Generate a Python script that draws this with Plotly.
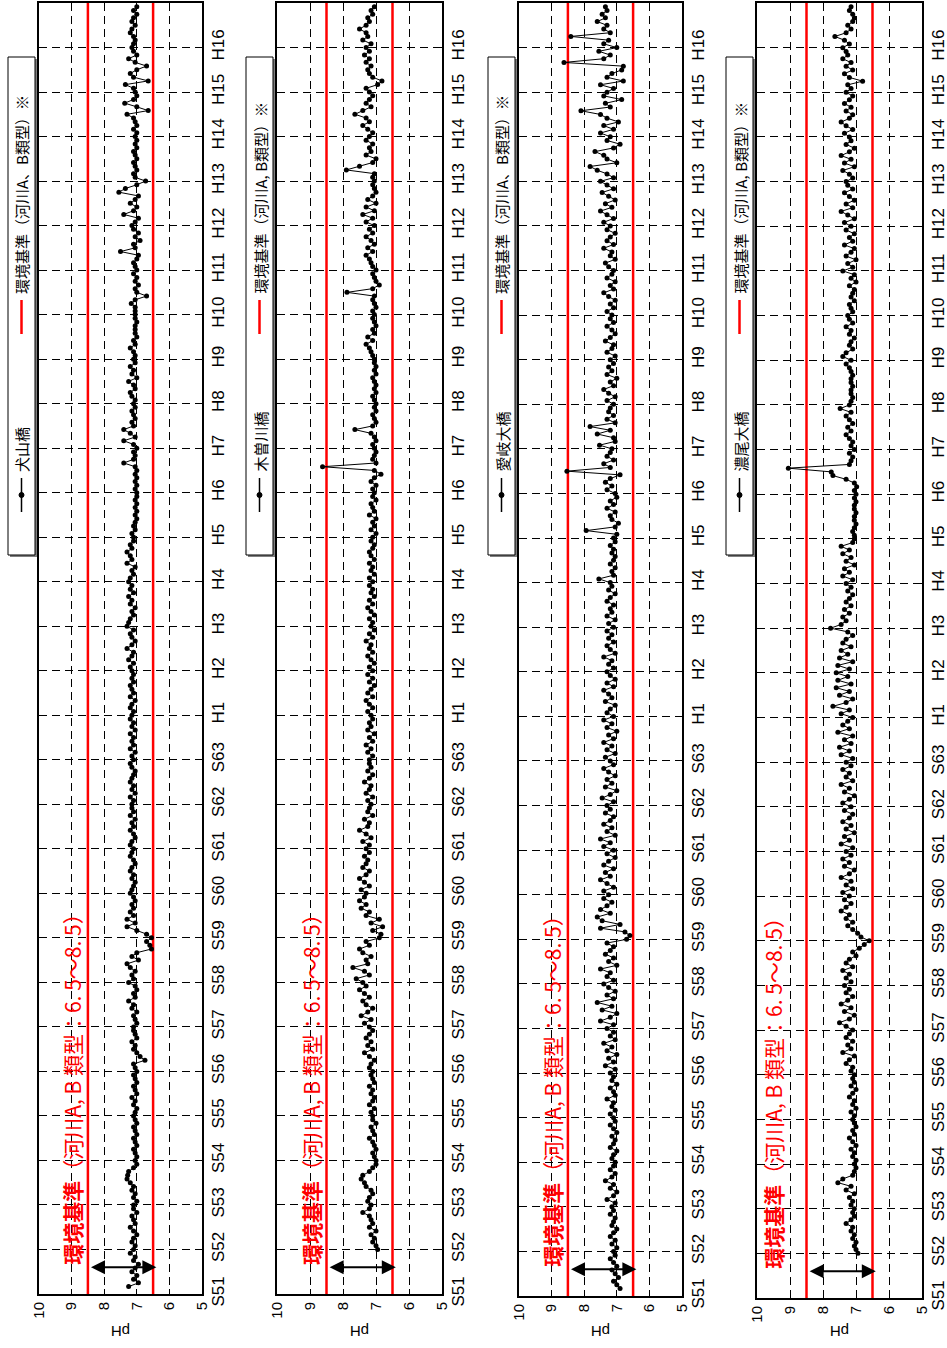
import plotly.graph_objects as go

# ---------------------------------------------------------------------------
# Data: monthly pH at four Kiso River stations, S51 (1976) .. H16 (2004)
# one row per calendar year, Jan..Dec; None = not measured
# ---------------------------------------------------------------------------
FIRST_YEAR = 1976
YEAR_LABELS = ["S51", "S52", "S53", "S54", "S55", "S56", "S57", "S58", "S59",
               "S60", "S61", "S62", "S63", "H1", "H2", "H3", "H4", "H5", "H6",
               "H7", "H8", "H9", "H10", "H11", "H12", "H13", "H14", "H15", "H16"]
PH_TICKS = [10, 9, 8, 7, 6, 5]
STD_HIGH = 8.5
STD_LOW = 6.5

STATIONS = ["犬山橋", "木曽川橋", "愛岐大橋", "濃尾大橋"]
STD_LEGEND = ["環境基準（河川A、B類型）※", "環境基準（河川A, B類型）※",
              "環境基準（河川A、B類型）※", "環境基準（河川A, B類型）※"]
STD_NOTE_HEAD = "環境基準"
STD_NOTE_TAIL = "（河川A, B 類型：6. 5〜8. 5）"

ph_inuyama = [
    [None, None, 7.25, 6.95, 7.1, 7.0, 7.15, 7.05, 6.95, 7.1, 7.05, 7.2],
    [7.1, 7.05, 7.15, 7.1, 7.0, 7.1, 7.2, 7.05, 7.1, 7.15, 7.0, 7.1],
    [7.1, 7.0, 7.1, 7.05, 7.15, 7.1, 7.2, 7.3, 7.28, 7.25, 7.1, 7.0],
    [7.05, 7.0, 7.05, 7.1, 7.0, 7.05, 7.1, 7.0, 7.05, 7.1, 7.0, 7.05],
    [7.1, 7.05, 7.0, 7.1, 7.05, 7.15, 7.0, 7.05, 7.1, 7.0, 7.05, 7.1],
    [7.0, 7.05, 7.1, 6.75, 6.9, 7.0, 7.1, 7.05, 7.15, 7.0, 7.05, 7.1],
    [7.1, 7.0, 7.05, 7.1, 7.0, 7.15, 7.1, 7.25, 7.05, 7.1, 7.0, 7.05],
    [7.25, 7.1, 7.15, 7.05, 7.2, 7.3, 6.95, 7.15, 7.0, 6.55, 6.6, 6.7],
    [6.55, 6.7, 7.0, 7.3, 7.05, 7.3, 7.1, 7.2, 7.1, 7.15, 7.05, 7.1],
    [7.2, 7.15, 7.1, 7.05, 7.15, 7.1, 7.2, 7.15, 7.05, 7.1, 7.2, 7.15],
    [7.1, 7.2, 7.15, 7.05, 7.1, 7.2, 7.1, 7.15, 7.05, 7.2, 7.1, 7.15],
    [7.15, 7.1, 7.2, 7.05, 7.15, 7.1, 7.2, 7.15, 7.1, 7.05, 7.15, 7.2],
    [7.1, 7.15, 7.05, 7.2, 7.1, 7.15, 7.1, 7.2, 7.05, 7.15, 7.1, 7.2],
    [7.15, 7.1, 7.2, 7.15, 7.05, 7.2, 7.1, 7.15, 7.2, 7.1, 7.15, 7.1],
    [7.15, 7.2, 7.1, 7.25, 7.15, 7.1, 7.3, 7.15, 7.05, 7.15, 7.2, 7.1],
    [7.3, 7.25, 7.2, 7.1, 7.15, 7.05, 7.2, 7.15, 7.25, 7.1, 7.2, 7.15],
    [7.25, 7.2, 7.1, 7.15, 7.05, 7.3, 7.15, 7.2, 7.3, 7.15, 7.2, 7.1],
    [7.1, 7.15, 7.05, 7.1, 7.05, 7.0, 7.05, 7.0, 7.05, 7.0, 7.05, 7.0],
    [7.0, 7.05, 7.0, 7.05, 7.0, 7.05, 7.0, 7.05, 7.4, 7.1, 7.05, 7.1],
    [7.0, 7.1, 7.4, 7.05, 7.2, 7.4, 7.1, 7.15, 7.05, 7.1, 7.15, 7.05],
    [7.1, 7.05, 7.15, 7.2, 7.05, 7.1, 7.25, 7.0, 7.15, 7.1, 7.2, 7.05],
    [7.1, 7.05, 7.1, 7.2, 7.05, 7.1, 7.0, 7.05, 7.05, 7.05, 7.0, 7.05],
    [7.05, 7.05, 7.05, 7.17, 7.05, 6.7, 7.0, 7.05, 6.95, 7.05, 7.0, 7.1],
    [7.0, 7.05, 7.1, 7.0, 6.95, 7.5, 7.05, 7.1, 6.9, 7.05, 6.95, 7.1],
    [7.15, 7.05, 6.95, 7.4, 7.1, 7.0, 7.2, 7.05, 6.95, 7.55, 7.35, 7.0],
    [6.73, 7.05, 7.1, 7.0, 7.05, 7.1, 7.0, 7.05, 7.1, 7.0, 7.05, 7.0],
    [7.05, 7.0, 7.1, 7.0, 7.05, 7.1, 7.3, 6.65, 7.0, 7.37, 7.1, 7.0],
    [7.05, 7.1, 7.35, 6.65, 7.1, 7.2, 7.0, 6.7, 7.05, 7.25, 7.0, 7.1],
    [7.15, 7.1, 7.05, 7.1, 7.2, 7.15, 7.05, 7.15, 7.1, 7.0, 7.1, 7.0],
]

ph_kisogawa = [
    [None] * 12,
    [6.95, 7.0, 7.1, 7.05, 7.15, 7.0, 7.2, 7.1, 7.15, 7.2, 7.4, 7.2],
    [7.15, 7.25, 7.2, 7.1, 7.15, 7.3, 7.35, 7.45, 7.4, 7.2, 7.1, 7.0],
    [7.0, 7.05, 7.1, 7.0, 7.05, 7.1, 7.2, 7.05, 7.1, 7.15, 7.0, 7.1],
    [7.1, 7.15, 7.05, 7.2, 7.1, 7.05, 7.15, 7.1, 7.2, 7.05, 7.1, 7.15],
    [7.1, 7.2, 7.15, 7.05, 7.2, 7.35, 7.1, 7.25, 7.15, 7.3, 7.2, 7.1],
    [7.2, 7.35, 7.15, 7.45, 7.25, 7.1, 7.3, 7.4, 7.2, 7.35, 7.5, 7.3],
    [7.4, 7.6, 7.2, 7.35, 7.7, 7.25, 7.3, 7.15, 7.4, 7.5, 7.2, 7.3],
    [6.9, 6.85, 7.1, 6.8, 7.15, 6.9, 7.3, 7.2, 7.45, 7.3, 7.5, 7.35],
    [7.3, 7.45, 7.2, 7.35, 7.5, 7.3, 7.2, 7.4, 7.3, 7.25, 7.35, 7.2],
    [7.3, 7.2, 7.4, 7.15, 7.3, 7.5, 7.25, 7.2, 7.35, 7.1, 7.25, 7.2],
    [7.15, 7.25, 7.1, 7.3, 7.2, 7.15, 7.35, 7.2, 7.1, 7.25, 7.15, 7.2],
    [7.2, 7.1, 7.25, 7.15, 7.3, 7.1, 7.2, 7.05, 7.25, 7.15, 7.2, 7.1],
    [7.15, 7.25, 7.1, 7.2, 7.3, 7.1, 7.25, 7.15, 7.05, 7.2, 7.1, 7.25],
    [7.1, 7.2, 7.05, 7.15, 7.25, 7.1, 7.2, 7.15, 7.3, 7.1, 7.2, 7.05],
    [7.15, 7.1, 7.2, 7.05, 7.15, 7.25, 7.1, 7.2, 7.05, 7.15, 7.1, 7.2],
    [7.1, 7.2, 7.05, 7.15, 7.1, 7.2, 7.05, 7.15, 7.2, 7.1, 7.05, 7.15],
    [7.1, 7.0, 7.15, 7.05, 7.1, 7.0, 7.2, 7.05, 7.1, 7.15, 7.0, 7.1],
    [7.05, 7.1, 7.0, 7.15, 7.05, 6.85, 7.05, 8.62, 7.0, 7.1, 7.05, 7.0],
    [7.05, 7.1, 7.0, 7.05, 7.15, 7.64, 7.1, 7.0, 7.05, 7.1, 7.0, 7.05],
    [7.0, 7.05, 7.1, 7.0, 7.05, 7.0, 7.05, 7.1, 7.0, 7.05, 7.0, 7.05],
    [7.05, 7.1, 7.15, 7.2, 7.3, 7.1, 7.25, 7.05, 7.1, 7.0, 7.05, 7.1],
    [7.05, 7.1, 7.0, 7.05, 7.1, 7.05, 7.88, 7.1, 6.9, 7.0, 7.05, 7.1],
    [7.0, 7.1, 7.15, 7.2, 7.3, 7.1, 7.25, 7.05, 7.15, 7.3, 7.1, 7.2],
    [7.05, 7.3, 7.1, 7.4, 7.05, 7.3, 7.0, 7.25, 7.1, 7.0, 7.05, 7.1],
    [7.05, 7.1, 7.05, 7.9, 7.5, 7.1, 7.0, 7.3, 7.15, 7.2, 7.1, 7.3],
    [7.2, 7.1, 7.25, 7.4, 7.2, 7.3, 7.64, 7.4, 7.15, 7.3, 7.2, 7.1],
    [7.2, 7.3, 6.95, 6.82, 7.1, 7.2, 7.25, 7.15, 7.3, 7.2, 7.35, 7.2],
    [7.3, 7.15, 7.4, 7.25, 7.3, 7.5, 7.3, 7.2, 7.25, 7.1, 7.15, 7.05],
]

ph_aigi = [
    [None, None, 6.9, 7.0, 7.1, 6.95, 7.05, 7.15, 7.0, 7.1, 7.2, 7.05],
    [7.1, 7.0, 7.15, 7.05, 7.2, 7.1, 7.0, 7.15, 7.1, 7.05, 7.2, 7.1],
    [7.15, 7.05, 7.3, 7.1, 7.0, 7.2, 7.1, 7.35, 7.15, 7.05, 7.2, 7.1],
    [7.05, 7.15, 7.1, 7.0, 7.2, 7.1, 7.05, 7.15, 7.0, 7.1, 7.2, 7.05],
    [7.1, 7.2, 7.05, 7.15, 7.1, 7.3, 7.05, 7.1, 7.2, 7.0, 7.15, 7.1],
    [7.2, 7.05, 7.35, 7.1, 7.25, 7.0, 7.3, 7.15, 7.4, 7.05, 7.2, 7.1],
    [7.3, 7.1, 7.5, 7.2, 7.0, 7.45, 7.15, 7.6, 7.1, 7.3, 7.05, 7.25],
    [7.4, 7.1, 7.3, 7.2, 7.5, 7.0, 7.25, 7.1, 7.35, 7.2, 7.1, 7.3],
    [6.7, 6.6, 6.75, 7.5, 6.9, 7.45, 7.6, 7.2, 7.5, 7.3, 7.15, 7.4],
    [7.25, 7.4, 7.1, 7.3, 7.5, 7.2, 7.35, 7.1, 7.4, 7.25, 7.05, 7.3],
    [7.1, 7.4, 7.2, 7.5, 7.05, 7.3, 7.15, 7.4, 7.2, 7.1, 7.35, 7.2],
    [7.3, 7.1, 7.45, 7.2, 7.0, 7.35, 7.15, 7.3, 7.05, 7.25, 7.4, 7.1],
    [7.2, 7.35, 7.05, 7.3, 7.15, 7.4, 7.1, 7.25, 7.0, 7.3, 7.15, 7.4],
    [7.1, 7.3, 7.2, 7.05, 7.35, 7.15, 7.25, 7.4, 7.1, 7.3, 7.05, 7.2],
    [7.3, 7.1, 7.25, 7.15, 7.4, 7.05, 7.2, 7.3, 7.1, 7.25, 7.15, 7.3],
    [7.1, 7.25, 7.05, 7.3, 7.15, 7.2, 7.1, 7.3, 7.2, 7.05, 7.25, 7.15],
    [7.2, 7.55, 7.1, 7.15, 7.05, 7.2, 7.1, 7.05, 7.15, 7.1, 7.2, 7.05],
    [7.1, 7.0, 7.94, 7.05, 6.95, 7.15, 7.2, 7.05, 7.3, 7.1, 7.2, 7.0],
    [7.05, 7.3, 7.15, 7.35, 7.2, 6.9, 8.53, 7.2, 7.4, 7.1, 7.3, 7.2],
    [7.15, 7.53, 7.05, 7.1, 7.6, 7.2, 7.82, 7.05, 7.3, 7.1, 7.25, 7.2],
    [7.1, 7.3, 7.05, 7.25, 7.4, 7.1, 7.2, 7.0, 7.3, 7.15, 7.25, 7.1],
    [7.2, 7.05, 7.3, 7.15, 7.1, 7.35, 7.2, 7.05, 7.15, 7.3, 7.1, 7.2],
    [7.15, 7.3, 7.1, 7.2, 7.05, 7.25, 7.4, 7.1, 7.2, 7.05, 7.3, 7.15],
    [7.1, 7.25, 7.35, 7.05, 7.2, 7.15, 7.4, 7.1, 7.3, 7.2, 7.05, 7.3],
    [7.2, 7.4, 7.1, 7.3, 7.5, 7.15, 7.35, 7.05, 7.25, 7.45, 7.1, 7.3],
    [7.5, 7.1, 7.3, 7.6, 7.82, 7.0, 7.3, 7.4, 7.67, 7.1, 6.9, 7.3],
    [7.2, 7.5, 7.1, 7.4, 6.95, 7.3, 7.5, 8.1, 7.2, 7.35, 6.85, 7.4],
    [7.3, 7.1, 7.5, 6.8, 7.3, 7.15, 6.85, 6.8, 8.62, 7.4, 7.2, 7.55],
    [7.0, 7.4, 7.25, 8.41, 7.2, 7.4, 7.3, 7.6, 7.35, 7.45, 7.3, 7.35],
]

ph_nobi = [
    [None] * 12,
    [6.94, 7.0, 7.05, 7.0, 7.1, 7.05, 7.15, 7.1, 7.3, 7.15, 7.05, 7.1],
    [7.05, 7.15, 7.1, 7.2, 7.05, 7.3, 7.15, 7.55, 7.4, 7.1, 7.05, 7.0],
    [7.05, 7.0, 7.1, 7.05, 7.15, 7.0, 7.1, 7.2, 7.05, 7.1, 7.0, 7.05],
    [7.1, 7.05, 7.15, 7.0, 7.1, 7.05, 7.2, 7.1, 7.0, 7.15, 7.05, 7.1],
    [7.05, 7.15, 7.1, 7.3, 7.2, 7.05, 7.4, 7.15, 7.25, 7.1, 7.3, 7.2],
    [7.1, 7.3, 7.5, 7.2, 7.05, 7.35, 7.15, 7.45, 7.25, 7.1, 7.3, 7.2],
    [7.35, 7.15, 7.3, 7.2, 7.4, 7.1, 7.3, 7.2, 7.0, 7.1, 6.9, 6.75],
    [6.6, 6.85, 6.95, 7.1, 7.25, 7.1, 7.3, 7.2, 7.45, 7.3, 7.15, 7.35],
    [7.2, 7.4, 7.1, 7.3, 7.15, 7.45, 7.2, 7.05, 7.35, 7.2, 7.4, 7.15],
    [7.3, 7.1, 7.45, 7.2, 7.35, 7.05, 7.3, 7.15, 7.4, 7.2, 7.1, 7.35],
    [7.15, 7.4, 7.2, 7.05, 7.35, 7.2, 7.45, 7.1, 7.3, 7.2, 7.4, 7.15],
    [7.3, 7.1, 7.45, 7.2, 7.5, 7.15, 7.35, 7.1, 7.55, 7.2, 7.4, 7.25],
    [7.1, 7.45, 7.2, 7.7, 7.3, 7.1, 7.5, 7.2, 7.6, 7.15, 7.55, 7.25],
    [7.6, 7.2, 7.55, 7.1, 7.5, 7.25, 7.45, 7.15, 7.4, 7.3, 7.1, 7.25],
    [7.77, 7.45, 7.3, 7.4, 7.2, 7.35, 7.15, 7.3, 7.2, 7.1, 7.25, 7.15],
    [7.3, 7.1, 7.4, 7.2, 7.35, 7.05, 7.3, 7.15, 7.4, 7.2, 7.45, 7.1],
    [7.05, 7.05, 7.1, 7.05, 7.0, 7.05, 7.05, 7.0, 7.05, 7.05, 7.0, 7.05],
    [7.0, 7.05, 6.98, 7.05, 7.3, 7.7, 7.75, 9.05, 7.2, 7.15, 7.1, 7.2],
    [7.05, 7.15, 7.1, 7.2, 7.3, 7.15, 7.25, 7.1, 7.2, 7.3, 7.15, 7.48],
    [7.2, 7.15, 7.1, 7.15, 7.15, 7.1, 7.15, 7.15, 7.1, 7.15, 7.2, 7.3],
    [7.15, 7.4, 7.3, 7.1, 7.2, 7.15, 7.05, 7.2, 7.15, 7.3, 7.1, 7.2],
    [7.25, 7.1, 7.15, 7.2, 7.05, 7.15, 7.1, 7.05, 7.2, 7.0, 7.15, 7.05],
    [7.4, 7.1, 7.25, 7.0, 7.3, 7.15, 7.05, 7.35, 7.1, 7.2, 7.05, 7.3],
    [7.15, 7.35, 7.05, 7.25, 7.45, 7.1, 7.3, 7.05, 7.2, 7.35, 7.1, 7.25],
    [7.3, 7.1, 7.2, 7.4, 7.05, 7.35, 7.15, 7.45, 7.2, 7.05, 7.3, 7.15],
    [7.2, 7.35, 7.1, 7.3, 7.45, 7.2, 7.1, 7.3, 7.15, 7.35, 7.2, 7.1],
    [7.3, 7.15, 7.25, 6.8, 7.2, 7.35, 7.1, 7.3, 7.15, 7.4, 7.25, 7.3],
    [7.4, 7.2, 7.35, 7.64, 7.3, 7.15, 7.25, 7.1, 7.05, 7.1, 7.2, 7.15],
]

SERIES = [ph_inuyama, ph_kisogawa, ph_aigi, ph_nobi]

# ---------------------------------------------------------------------------
# Page geometry (pixels) – each panel is a landscape chart turned on its side:
# pH runs left (10) to right (5), time runs bottom (S51) to top (H16)
# ---------------------------------------------------------------------------
W, H = 947, 1348
PANELS = [(39, 202, 1294), (277, 442, 1294), (519, 682, 1296), (757, 922, 1298)]
PANEL_TOP = 3
NOTE_PH = [8.97, 8.95, 8.97, 9.5]

CJK = "Noto Sans CJK JP"
TICK_FONT = "Liberation Sans Narrow, Liberation Sans, Arial, sans-serif"


def fx(px):
    return px / W


def fy(px):
    return 1 - px / H


def monthly(rows):
    t, v = [], []
    for yi, row in enumerate(rows):
        for m, val in enumerate(row):
            if val is not None:
                t.append(FIRST_YEAR + yi + m / 12)
                v.append(val)
    return t, v


fig = go.Figure()
shapes, annotations = [], []
year_ticks = [FIRST_YEAR + i for i in range(len(YEAR_LABELS))]
y_span = [FIRST_YEAR, FIRST_YEAR + 29]

for i, (rows, (left, right, bottom)) in enumerate(zip(SERIES, PANELS)):
    sfx = "" if i == 0 else str(i + 1)
    xr, yr = "x" + sfx, "y" + sfx

    # environmental standard limits (red verticals)
    for lim in (STD_HIGH, STD_LOW):
        fig.add_trace(go.Scatter(
            x=[lim, lim], y=y_span, xaxis=xr, yaxis=yr, mode="lines",
            line=dict(color="#ff0000", width=2.5),
            showlegend=False, hoverinfo="skip"))

    t, v = monthly(rows)
    fig.add_trace(go.Scatter(
        x=v, y=t, xaxis=xr, yaxis=yr, mode="lines+markers",
        line=dict(color="black", width=1),
        marker=dict(color="black", size=5),
        showlegend=False, hoverinfo="skip"))

    grid = dict(showgrid=True, gridcolor="black", gridwidth=1, griddash="8px,5px",
                showline=True, linecolor="black", linewidth=2, mirror="ticks",
                zeroline=False, ticks="inside", ticklen=5, tickcolor="black",
                fixedrange=True, automargin=False)
    fig.layout["xaxis" + sfx] = dict(
        domain=[fx(left), fx(right)], range=[10, 5], tickvals=PH_TICKS,
        ticktext=[str(p) for p in PH_TICKS], tickangle=-90, anchor=yr,
        tickfont=dict(family=TICK_FONT, size=15, color="black"), **grid)
    fig.layout["yaxis" + sfx] = dict(
        domain=[fy(bottom), fy(PANEL_TOP)], range=y_span,
        tickvals=year_ticks, ticktext=YEAR_LABELS, tickangle=-90, side="right",
        anchor=xr, tickfont=dict(family=TICK_FONT, size=17, color="black"), **grid)

    # double-headed arrow spanning the standard range
    annotations.append(dict(
        x=STD_LOW - 0.1, y=FIRST_YEAR + 0.6, ax=STD_HIGH - 0.05, ay=FIRST_YEAR + 0.6,
        xref=xr, yref=yr, axref=xr, ayref=yr, text="", showarrow=True,
        arrowhead=2, arrowsize=1.4, arrowwidth=2, arrowcolor="black",
        arrowside="end+start", startarrowhead=2, startarrowsize=1.4))

    # red note beside the upper limit
    annotations.append(dict(
        x=NOTE_PH[i], y=FIRST_YEAR + 0.6, xref=xr, yref=yr, textangle=-90,
        xanchor="center", yanchor="bottom", showarrow=False,
        text="<b>" + STD_NOTE_HEAD + "</b>" + STD_NOTE_TAIL,
        font=dict(family=CJK, size=21, color="#ff0000")))

    # axis title (upside down, as on the turned page)
    annotations.append(dict(
        x=fx((left + right) / 2), y=fy(1332), xref="paper", yref="paper",
        text="pH", textangle=180, showarrow=False, xanchor="center", yanchor="middle",
        font=dict(family=TICK_FONT, size=15, color="black")))

    # legend box with a grey drop shadow
    lx0, lx1 = left - 31, left - 4
    cx = (lx0 + lx1) / 2
    shapes.append(dict(type="rect", xref="paper", yref="paper",
                       x0=fx(lx0 + 2), x1=fx(lx1 + 2), y0=fy(557), y1=fy(59),
                       line=dict(width=0), fillcolor="#808080"))
    shapes.append(dict(type="rect", xref="paper", yref="paper",
                       x0=fx(lx0), x1=fx(lx1), y0=fy(555), y1=fy(57),
                       line=dict(color="black", width=1), fillcolor="white"))
    # station entry: line with dot
    shapes.append(dict(type="line", xref="paper", yref="paper",
                       x0=fx(cx), x1=fx(cx), y0=fy(512), y1=fy(478),
                       line=dict(color="black", width=1.5)))
    shapes.append(dict(type="circle", xref="paper", yref="paper",
                       x0=fx(cx - 2.5), x1=fx(cx + 2.5), y0=fy(497.5), y1=fy(492.5),
                       fillcolor="black", line=dict(color="black", width=1)))
    annotations.append(dict(
        x=fx(cx), y=fy(474), xref="paper", yref="paper", text=STATIONS[i],
        textangle=-90, showarrow=False, xanchor="center", yanchor="bottom",
        font=dict(family=CJK, size=15, color="black")))
    # standard entry: red line
    shapes.append(dict(type="line", xref="paper", yref="paper",
                       x0=fx(cx), x1=fx(cx), y0=fy(334), y1=fy(300),
                       line=dict(color="#ff0000", width=2.5)))
    annotations.append(dict(
        x=fx(cx), y=fy(296), xref="paper", yref="paper", text=STD_LEGEND[i],
        textangle=-90, showarrow=False, xanchor="center", yanchor="bottom",
        font=dict(family=CJK, size=15, color="black")))

fig.update_layout(
    width=W, height=H, margin=dict(l=0, r=0, t=0, b=0),
    paper_bgcolor="white", plot_bgcolor="white",
    shapes=shapes, annotations=annotations, showlegend=False)

fig.write_html("out.html")
